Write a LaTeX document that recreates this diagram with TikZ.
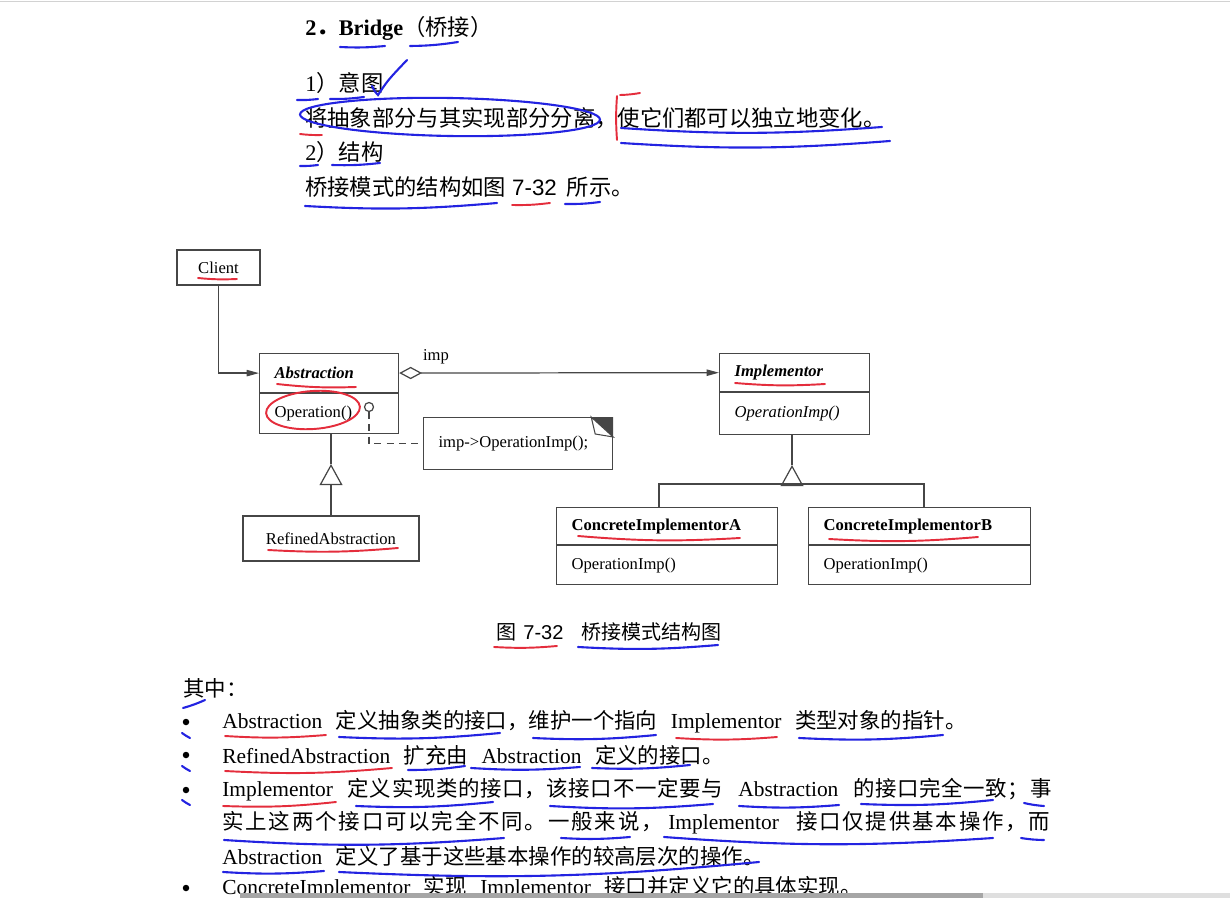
\documentclass[tikz,border=0pt]{standalone}
\usepackage{fontspec}
\setmainfont{Liberation Serif}
\newfontfamily\cjk{Noto Sans CJK SC}
\newfontfamily\arial{Liberation Sans}
\usetikzlibrary{arrows.meta, positioning}
\definecolor{umlgray}{RGB}{70,70,70}
\definecolor{penblue}{RGB}{35,35,225}
\definecolor{penred}{RGB}{228,45,60}
\newcommand\zh[1]{{\cjk #1}}
\newcommand\spreadzh[1]{{\cjk\spreadstep#1\relax}}
\def\spreadstep#1{\ifx\relax#1\else#1\hspace{0pt plus 1pt}\expandafter\spreadstep\fi}
\newcommand\wsp{\hspace{0.27cm plus 2pt}}
\newcommand\bodyfont{\fontsize{12.7}{15}\selectfont}
\newcommand\listfont{\fontsize{12.2}{15}\selectfont}
\newcommand\umlfont{\fontsize{9.45}{11}\selectfont}

\begin{document}
\begin{tikzpicture}[x=0.02cm, y=-0.02cm,
    txt/.style={anchor=west, inner sep=0pt, font=\bodyfont},
    item/.style={anchor=west, inner sep=0pt, font=\listfont},
    uml/.style={rectangle, draw=umlgray, line width=0.7pt, font=\umlfont, inner ysep=0pt},
    cls/.style={uml, inner xsep=0.3cm, align=left},
    umlline/.style={draw=umlgray, line width=0.7pt},
    assoc/.style={umlline, -{Triangle[length=7pt,width=3.6pt]}},
    gen/.style={umlline, -{Triangle[open,length=12pt,width=13pt]}},
    dashline/.style={umlline, dash pattern=on 4pt off 3pt},
    dot/.style={circle, fill=black, inner sep=0pt, minimum size=0.13cm},
    pen/.style={penblue, line width=1.2pt, line cap=round},
    redpen/.style={penred, line width=1.1pt, line cap=round}
  ]
  \useasboundingbox (0,0) rectangle (1230,898);
  \draw[gray!35] (0,1) -- (1230,1);

  \node[txt, font=\bodyfont\bfseries] (title) at (305,28) {2\zh{．}Bridge\zh{\mdseries （桥接）}};
  \node[txt] (intent) at (305,83) {1\zh{）意图}};
  \node[txt] (intenttx) at (305,118) {\zh{将抽象部分与其实现部分分离，使它们都可以独立地变化。}};
  \node[txt] (struct) at (305,152) {2\zh{）结构}};
  \node[txt] (structtx) at (305,187) {\zh{桥接模式的结构如图}\hspace{0.12cm}{\arial 7-32}\hspace{0.2cm}\zh{所示。}};

  % class diagram
  \node[uml, minimum width=1.66cm, minimum height=0.7cm] (client) at (218.5,267.5) {Client};
  \node[cls, text width=2.18cm, minimum height=0.78cm, anchor=north west] (abs) at (259,353) {\textbf{\textit{Abstraction}}};
  \node[cls, text width=2.18cm, minimum height=0.8cm, below=0pt of abs] (absop) {Operation()};
  \node[cls, text width=2.4cm, minimum height=0.76cm, anchor=north west] (imp) at (719,353) {\textbf{\textit{Implementor}}};
  \node[cls, text width=2.4cm, minimum height=0.84cm, below=0pt of imp] (impop) {\textit{OperationImp()}};
  \node[uml, minimum width=3.52cm, minimum height=0.9cm] (refined) at (331,538.5) {RefinedAbstraction};
  \node[cls, text width=3.82cm, minimum height=0.74cm, anchor=north west] (conca) at (556,507) {\textbf{ConcreteImplementorA}};
  \node[cls, text width=3.82cm, minimum height=0.78cm, below=0pt of conca] (concaop) {OperationImp()};
  \node[cls, text width=3.84cm, minimum height=0.74cm, anchor=north west] (concb) at (808,507) {\textbf{ConcreteImplementorB}};
  \node[cls, text width=3.84cm, minimum height=0.78cm, below=0pt of concb] (concbop) {OperationImp()};
  \node[cls, text width=3.18cm, minimum height=1.04cm, anchor=north west] (note) at (423,417) {imp->OperationImp();};
  \node[uml, circle, minimum size=0.18cm, inner sep=0pt] (lolli) at (369,407) {};
  \node[font=\umlfont, inner sep=0pt] (implbl) at (436,357) {imp};

  \fill[umlgray] ([xshift=-0.44cm]note.north east) -- (note.north east) -- ([yshift=-0.4cm]note.north east) -- cycle;
  \draw[umlgray, line width=0.6pt, fill=white] ([xshift=-0.44cm]note.north east) -- ([xshift=-0.36cm,yshift=-0.34cm]note.north east) -- ([yshift=-0.4cm]note.north east) -- cycle;

  \coordinate (absgen) at (331,464);
  \coordinate (impbar) at (792,484);
  \coordinate (impgen) at (792,465);
  \coordinate (barA) at (659,484);
  \coordinate (barB) at (924,484);

  \draw[assoc] (client) |- (abs);
  \draw[assoc, {Diamond[open,length=13pt,width=7pt]}-{Triangle[length=7pt,width=3.6pt]}] (abs) -- (imp);
  \draw[gen] (refined) -- (absgen);
  \draw[umlline] (absgen) -- (absgen |- absop.south);
  \draw[umlline] (barA |- conca.north) -- (barA) -- (barB) -- (barB |- concb.north);
  \draw[gen] (impbar) -- (impgen);
  \draw[umlline] (impgen) -- (impgen |- impop.south);
  \draw[dashline] (lolli) |- (note);

  \node[txt, font=\fontsize{11.4}{14}\selectfont] (caption) at (496,632) {\zh{图}\hspace{0.14cm}{\arial 7-32}\hspace{0.36cm}\zh{桥接模式结构图}};

  % participants
  \node[item] (among) at (183,688) {\zh{其中：}};
  \foreach \y [count=\i] in {722,755,790,888}
    \node[dot] (bul\i) at (186,\y) {};
  \node[item] (l1) at (222,722) {Abstraction\wsp\zh{定义抽象类的接口，维护一个指向}\wsp Implementor\wsp\zh{类型对象的指针。}};
  \node[item] (l2) at (222,755) {RefinedAbstraction\wsp\zh{扩充由}\wsp Abstraction\wsp\zh{定义的接口。}};
  \node[item] (l3) at (222,790) {\makebox[16.6cm][s]{Implementor\wsp\spreadzh{定义实现类的接口，该接口不一定要与}\wsp Abstraction\wsp\spreadzh{的接口完全一致；事}}};
  \node[item] (l4) at (222,823) {\makebox[16.6cm][s]{\spreadzh{实上这两个接口可以完全不同。一般来说，}\hspace{0pt plus 2pt}Implementor\wsp\spreadzh{接口仅提供基本操作，而}}};
  \node[item] (l5) at (222,856) {Abstraction\wsp\zh{定义了基于这些基本操作的较高层次的操作。}};
  \node[item] (l6) at (222,888) {ConcreteImplementor\wsp\zh{实现}\wsp Implementor\wsp\zh{接口并定义它的具体实现。}};
  \fill[gray!70] (240,893) rectangle (983,898);
  \fill[gray!25] (983,893) rectangle (1230,898);

  % pen marks
  \foreach \a/\b/\c/\d in {340/47/385/46, 410/46/458/42, 297/100/318/99, 330/99/364/97,
      300/166/318/165, 332/165/380/163, 305/206/497/203, 565/204/600/202,
      621/128/882/127, 621/143/890/141, 578/647/718/645, 183/708/205/700,
      182/733/190/738, 182/766/190/771, 182/800/190/805,
      339/737/500/733, 533/738/656/735, 799/738/943/735,
      408/770/465/766, 471/768/580/767, 592/768/690/765,
      356/806/493/802, 550/806/713/804, 739/806/839/805, 861/804/993/800, 1024/803/1044/806,
      224/840/504/838, 561/838/630/837, 664/837/993/838, 1021/838/1044/840,
      223/872/324/871, 339/872/759/862}
    \draw[pen] (\a,\b) to[bend right=4] (\c,\d);
  \draw[pen] (372,86) .. controls (375,92) .. (378,95) .. controls (388,80) .. (407,60);
  \draw[pen, rotate around={-1:(450,117)}] (450,117) ellipse (150 and 19);
  \foreach \a/\b/\c/\d in {300/134/322/135, 620/95/640/93, 617/96/617/140, 512/205/550/203,
      198/278/237/279, 277/384/356/387, 268/550/398/548, 735/383/825/384,
      578/536/740/538, 829/539/978/537, 494/647/557/646,
      225/736/326/735, 676/738/777/737, 225/771/392/768, 223/806/336/802}
    \draw[redpen] (\a,\b) to[bend right=4] (\c,\d);
  \draw[redpen, rotate around={4:(313,410)}] (313,410) ellipse (47 and 19);
\end{tikzpicture}
\end{document}
